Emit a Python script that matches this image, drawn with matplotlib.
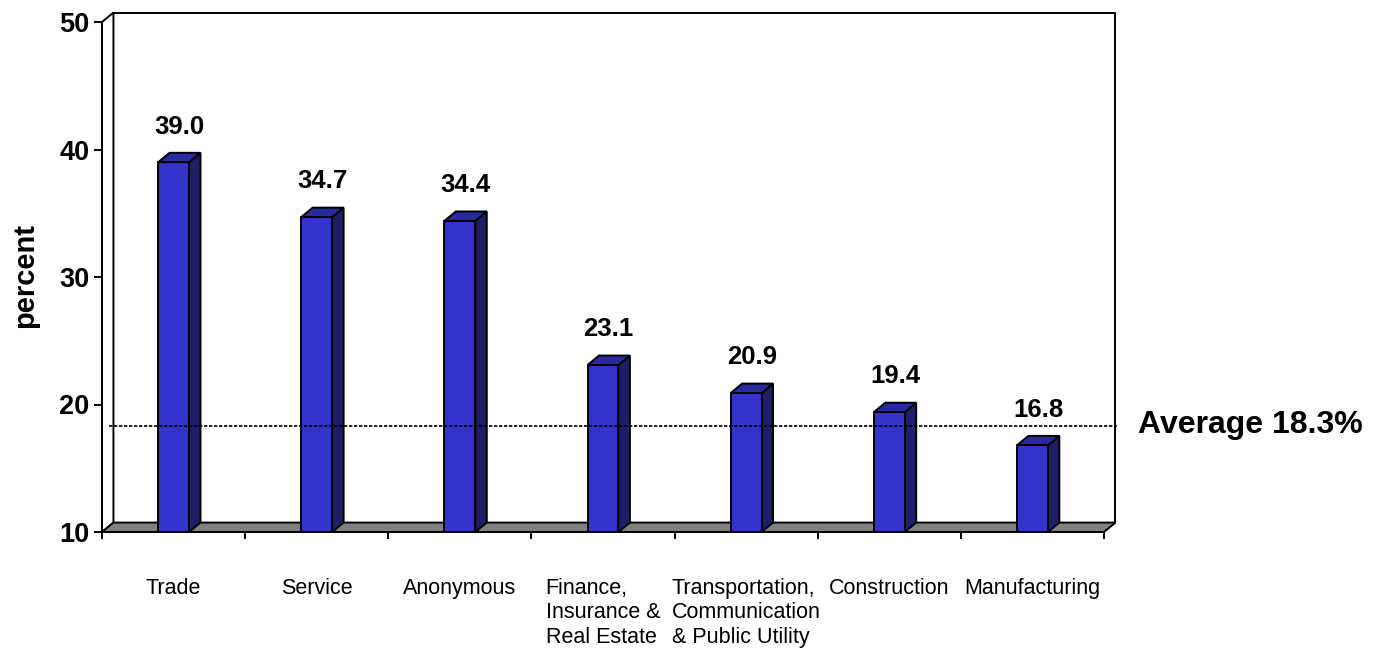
import matplotlib.pyplot as plt
from matplotlib.patches import Polygon, Rectangle

categories = ["Trade", "Service", "Anonymous", "Finance,\nInsurance &\nReal Estate",
              "Transportation,\nCommunication\n& Public Utility", "Construction", "Manufacturing"]
values = [39.0, 34.7, 34.4, 23.1, 20.9, 19.4, 16.8]
average = 18.3
yticks = [10, 20, 30, 40, 50]

plt.rcParams['font.family'] = ['Liberation Sans', 'DejaVu Sans']

fig = plt.figure(figsize=(13.84, 6.54), dpi=100)
ax = fig.add_axes([102/1384, 122/654, 1002/1384, 510/654])
ax.set_xlim(0, len(categories))
ax.set_ylim(10, 50)

# 3d depth offsets (in data units)
dx = 0.08
dy = 0.74
bw = 0.216
front = "#3333CC"
top = "#2A2AA0"
side = "#1E1E66"
lw = 1.4

n = len(categories)
# back wall, side wall, floor
ax.add_patch(Rectangle((dx, 10 + dy), n, 40, facecolor="white", edgecolor="black",
                       lw=lw, clip_on=False, zorder=1))
ax.add_patch(Polygon([(0, 10), (0, 50), (dx, 50 + dy), (dx, 10 + dy)], closed=True,
                     facecolor="white", edgecolor="black", lw=lw, clip_on=False, zorder=1))
ax.add_patch(Polygon([(0, 10), (n, 10), (n + dx, 10 + dy), (dx, 10 + dy)], closed=True,
                     facecolor="#808080", edgecolor="black", lw=lw, clip_on=False, zorder=2))

for i, v in enumerate(values):
    xl = i + 0.5 - bw / 2
    xr = i + 0.5 + bw / 2
    ax.add_patch(Polygon([(xr, 10), (xr, v), (xr + dx, v + dy), (xr + dx, 10 + dy)],
                         closed=True, facecolor=side, edgecolor="black", lw=lw,
                         clip_on=False, zorder=3))
    ax.add_patch(Polygon([(xl, v), (xr, v), (xr + dx, v + dy), (xl + dx, v + dy)],
                         closed=True, facecolor=top, edgecolor="black", lw=lw,
                         clip_on=False, zorder=3))
    ax.add_patch(Rectangle((xl, 10), bw, v - 10, facecolor=front, edgecolor="black",
                           lw=lw, clip_on=False, zorder=4))
    ax.text(i + 0.5 + dx / 2, v + 2.8, f"{v:.1f}", ha="center", va="center",
            fontsize=18.5, fontweight="bold")

ax.plot([0.05, n + 0.09], [average, average], color="black", ls=(0, (2, 1)), lw=1.2,
        zorder=5, clip_on=False)
ax.text(n + 0.235, average + 0.1, f"Average {average}%", ha="left", va="center",
        fontsize=23, fontweight="bold")

for s in ["top", "right"]:
    ax.spines[s].set_visible(False)
ax.spines["left"].set_linewidth(lw)
ax.spines["bottom"].set_linewidth(lw)
ax.spines["left"].set_zorder(6)
ax.spines["bottom"].set_zorder(6)
ax.patch.set_visible(False)

ax.set_yticks(yticks)
ax.set_yticklabels([str(t) for t in yticks], fontsize=19.5, fontweight="bold")
ax.tick_params(axis="y", length=6, width=lw, pad=3)

ax.set_xticks(range(n + 1))
ax.set_xticklabels([])
ax.tick_params(axis="x", which="major", length=5, width=lw)
ax.set_xticks([i + 0.5 for i in range(n)], minor=True)
ax.set_xticklabels(categories, minor=True, fontsize=15.5)
ax.tick_params(axis="x", which="minor", length=0, pad=33)
for t in ax.get_xticklabels(minor=True):
    t.set_multialignment("left")
    t.set_verticalalignment("top")
    t.set_linespacing(1.22)

fig.text(25/1384, 1 - 275/654, "percent", rotation=90, ha="center", va="center",
         fontsize=21, fontweight="bold")

fig.savefig("out.png", dpi=100)
